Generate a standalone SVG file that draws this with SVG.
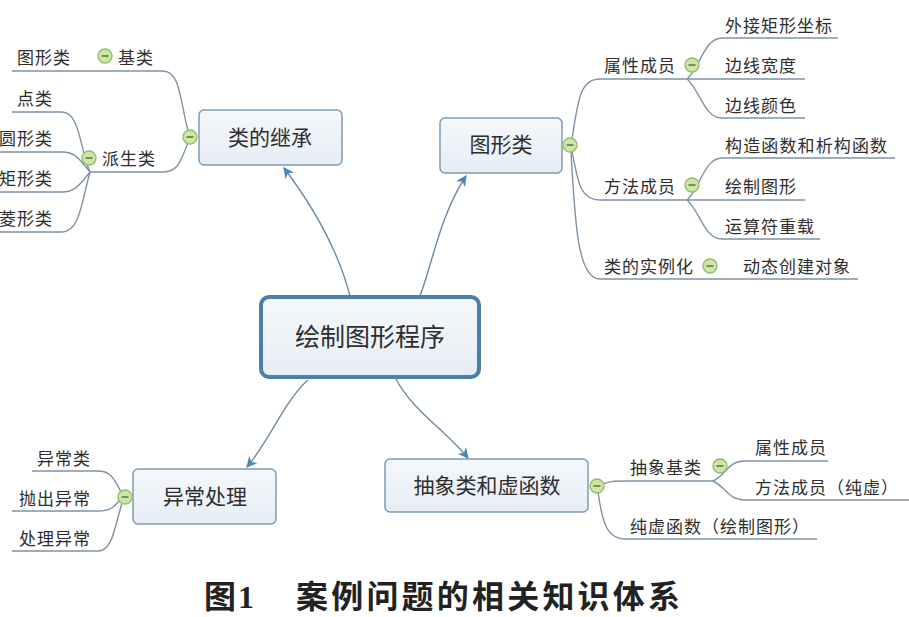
<svg xmlns="http://www.w3.org/2000/svg" width="909" height="617" viewBox="0 0 909 617">
<defs>
<linearGradient id="bg" x1="0" y1="0" x2="0" y2="1">
<stop offset="0" stop-color="#f5f8fb"/><stop offset="1" stop-color="#e6edf5"/>
</linearGradient>
<marker id="ah" viewBox="0 0 10 10" refX="9" refY="5" markerWidth="11" markerHeight="11" markerUnits="userSpaceOnUse" orient="auto">
<path d="M0,0 L10,5 L0,10 L3,5 Z" fill="#4a86b8"/>
</marker>
<g id="tog">
<circle r="7" fill="#cde6a6" stroke="#8fbd6c" stroke-width="1.3"/>
<line x1="-3.5" y1="0" x2="3.5" y2="0" stroke="#4d5b44" stroke-width="1.3"/>
</g>
</defs>
<style>
.box{fill:url(#bg);stroke:#7e9cb8;stroke-width:1.5}
.main{fill:url(#bg);stroke:#4b7fa8;stroke-width:4}
.bt{font-family:"Noto Sans CJK SC","Noto Sans",sans-serif;font-size:21px;fill:#2e2e2e;text-anchor:middle}
.lt{font-family:"Noto Sans CJK SC","Noto Sans",sans-serif;font-size:17px;fill:#2e2e2e;letter-spacing:1px}
.r{text-anchor:end}
.br{fill:none;stroke:#7f93a6;stroke-width:1.4}
.ar{fill:none;stroke:#6e8ba6;stroke-width:1.4;marker-end:url(#ah)}
.cap{font-family:"Noto Sans CJK SC",sans-serif;font-size:32px;font-weight:bold;fill:#222}
</style>
<rect width="909" height="617" fill="#ffffff"/>

<g id="connectors">
<path class="ar" d="M350,296 C338,250 312,205 284,168"/>
<path class="ar" d="M420,296 C432,265 440,215 466,176"/>
<path class="ar" d="M308,380 C285,400 270,440 247,467"/>
<path class="ar" d="M396,379 C412,410 445,430 468,458"/>
<path class="br" d="M188,131 C180,100 180,71 163,71 H12"/>
<path class="br" d="M188,143 C180,162 178,172 163,172 H90"/>
<path class="br" d="M90,172 C80,150 80,112 62,112 H12"/>
<path class="br" d="M90,172 C80,160 76,152 62,152 H0"/>
<path class="br" d="M90,172 C80,184 76,192 62,192 H0"/>
<path class="br" d="M90,172 C82,200 80,232 62,232 H0"/>
<path class="br" d="M572,139 C578,100 580,79 600,79 H805"/>
<path class="br" d="M572,151 C578,182 580,200 600,200 H805"/>
<path class="br" d="M571,152 C575,225 578,279 600,279 H858"/>
<path class="br" d="M687,79 C700,68 704,38 722,38 H838"/>
<path class="br" d="M687,79 C700,90 704,118 722,118 H805"/>
<path class="br" d="M687,200 C700,189 704,158 722,158 H895"/>
<path class="br" d="M687,200 C700,211 704,239 722,239 H820"/>
<path class="br" d="M121,492 C114,478 110,471 98,471 H32"/>
<path class="br" d="M120,500 C113,508 110,511 98,511 H12"/>
<path class="br" d="M122,503 C114,530 112,551 98,551 H12"/>
<path class="br" d="M603,484 C610,481 614,481 625,481 H713"/>
<path class="br" d="M598,492 C602,520 606,539 625,539 H817"/>
<path class="br" d="M713,481 C726,475 728,461 745,461 H828"/>
<path class="br" d="M713,481 C726,487 728,500 745,500 H909"/>
</g>

<g id="node-main">
<rect class="main" x="261" y="297" width="218" height="80" rx="8"/>
<text class="bt" x="370" y="346" style="font-size:25px">绘制图形程序</text>
</g>

<g id="node-inherit">
<rect class="box" x="199" y="110" width="143" height="55" rx="5"/>
<text class="bt" x="270" y="145">类的继承</text>
<use href="#tog" x="190" y="137"/>
<use href="#tog" x="105" y="56"/>
<use href="#tog" x="89" y="158"/>
<text class="lt" x="17" y="64">图形类</text>
<text class="lt" x="118" y="64">基类</text>
<text class="lt" x="102" y="165">派生类</text>
<text class="lt r" x="53" y="105">点类</text>
<text class="lt r" x="53" y="145">圆形类</text>
<text class="lt r" x="53" y="185">矩形类</text>
<text class="lt r" x="53" y="225">菱形类</text>
</g>

<g id="node-shape">
<rect class="box" x="440" y="118" width="122" height="55" rx="5"/>
<text class="bt" x="501" y="152">图形类</text>
<use href="#tog" x="570" y="145"/>
<use href="#tog" x="692" y="65"/>
<use href="#tog" x="692" y="185"/>
<use href="#tog" x="710" y="266"/>
<text class="lt" x="604" y="72">属性成员</text>
<text class="lt" x="604" y="193">方法成员</text>
<text class="lt" x="604" y="273">类的实例化</text>
<text class="lt" x="725" y="32">外接矩形坐标</text>
<text class="lt" x="725" y="72">边线宽度</text>
<text class="lt" x="725" y="112">边线颜色</text>
<text class="lt" x="725" y="152" textLength="163" lengthAdjust="spacing">构造函数和析构函数</text>
<text class="lt" x="725" y="193">绘制图形</text>
<text class="lt" x="725" y="233">运算符重载</text>
<text class="lt" x="743" y="273">动态创建对象</text>
</g>

<g id="node-except">
<rect class="box" x="133" y="469" width="143" height="55" rx="5"/>
<text class="bt" x="205" y="504">异常处理</text>
<use href="#tog" x="125" y="497"/>
<text class="lt r" x="91" y="465">异常类</text>
<text class="lt r" x="91" y="505">抛出异常</text>
<text class="lt r" x="91" y="545">处理异常</text>
</g>

<g id="node-abstract">
<rect class="box" x="385" y="459" width="203" height="53" rx="5"/>
<text class="bt" x="487" y="493">抽象类和虚函数</text>
<use href="#tog" x="597" y="486"/>
<use href="#tog" x="720" y="466"/>
<text class="lt" x="630" y="474">抽象基类</text>
<text class="lt" x="630" y="533">纯虚函数（绘制图形）</text>
<text class="lt" x="755" y="454">属性成员</text>
<text class="lt" x="755" y="494">方法成员（纯虚）</text>
</g>

<g id="caption">
<text class="cap" x="204" y="608">图</text>
<text x="238" y="608" style="font-family:'Liberation Serif',serif;font-size:32px;font-weight:bold;fill:#222">1</text>
<text class="cap" x="296" y="608" textLength="384" lengthAdjust="spacing">案例问题的相关知识体系</text>
</g>
</svg>
